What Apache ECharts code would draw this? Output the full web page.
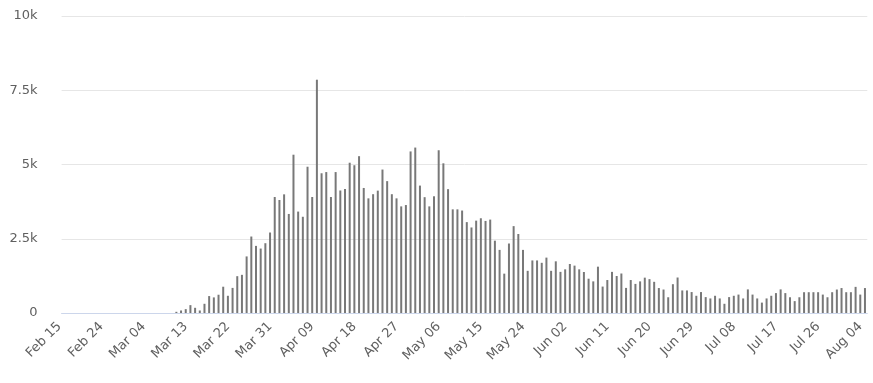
<!DOCTYPE html>
<html>
<head>
<meta charset="utf-8">
<script src="https://cdn.jsdelivr.net/npm/echarts@6/dist/echarts.min.js"></script>
<style>
html,body{margin:0;padding:0;background:#fff;}
#chart{width:873px;height:383px;}
</style>
</head>
<body>
<div id="chart"></div>
<script>
// Dates: Feb 15 2020 .. Aug 04 2020 (daily); month is 1-based here
const startDate = [2020, 2, 15];
const dayCount = 172;
const monthNames = ['Jan','Feb','Mar','Apr','May','Jun','Jul','Aug','Sep','Oct','Nov','Dec'];

// Daily values, Feb 15 .. Mar 09 (zero)
const valuesFebMar = [0,0,0,0,0,0,0,0,0,0,0,0,0,0,0,0,0,0,0,0,0,0,0,0];
// Mar 10 .. Apr 03
const valuesMarApr = [40,85,130,265,175,85,310,570,525,615,885,580,845,1240,1285,1905,2575,2260,2170,2350,2710,3905,3805,3995,3335];
// Apr 04 .. Apr 28
const valuesApr = [5330,3415,3240,4925,3905,7855,4705,4745,3905,4745,4125,4175,5060,4975,5280,4210,3860,4000,4120,4830,4440,4000,3860,3590,3635];
// Apr 29 .. May 23
const valuesMay = [5440,5570,4290,3900,3590,3930,5480,5040,4170,3490,3490,3450,3060,2880,3110,3190,3100,3145,2435,2125,1325,2340,2925,2660,2125];
// May 24 .. Jun 17
const valuesJun = [1420,1770,1770,1690,1865,1420,1740,1385,1470,1650,1595,1470,1380,1155,1065,1560,890,1110,1385,1245,1330,845,1110,980,1065];
// Jun 18 .. Jul 12
const valuesJul = [1190,1140,1050,840,790,530,970,1195,760,760,705,580,705,535,490,580,490,310,535,580,620,490,795,620,490];
// Jul 13 .. Aug 04
const valuesAug = [350,490,580,670,795,670,530,400,530,700,700,700,700,620,530,700,790,840,700,700,880,620,840];

const yTicks = [0, 2500, 5000, 7500, 10000];

const categories = [];
for (let i = 0; i < dayCount; i++) {
  const d = new Date(Date.UTC(startDate[0], startDate[1] - 1, startDate[2] + i));
  const dd = d.getUTCDate();
  categories.push(monthNames[d.getUTCMonth()] + ' ' + (dd < 10 ? '0' + dd : dd));
}
const values = [].concat(valuesFebMar, valuesMarApr, valuesApr, valuesMay, valuesJun, valuesJul, valuesAug);

const chart = echarts.init(document.getElementById('chart'), null, {renderer: 'canvas'});
chart.setOption({
  animation: false,
  backgroundColor: '#ffffff',
  grid: {left: 61.6, right: 5.7, top: 16, bottom: 70, containLabel: false},
  xAxis: {
    type: 'category',
    data: categories,
    boundaryGap: true,
    axisLine: {show: true, lineStyle: {color: '#ccd6eb', width: 1}},
    axisTick: {show: false},
    axisLabel: {
      interval: 8,
      rotate: 45,
      margin: 16,
      verticalAlign: 'bottom',
      color: '#606060',
      fontSize: 13,
      fontFamily: 'DejaVu Sans, sans-serif'
    },
    splitLine: {show: false}
  },
  yAxis: {
    type: 'value',
    min: yTicks[0],
    max: yTicks[yTicks.length - 1],
    interval: 2500,
    axisLine: {show: false},
    axisTick: {show: false},
    axisLabel: {
      margin: 24,
      color: '#606060',
      fontSize: 13,
      fontFamily: 'DejaVu Sans, sans-serif',
      formatter: v => v === 0 ? '0' : (v / 1000) + 'k'
    },
    splitLine: {show: true, lineStyle: {color: '#e6e6e6', width: 1}}
  },
  series: [{
    type: 'bar',
    data: values,
    barWidth: 2,
    itemStyle: {color: '#787878'},
    emphasis: {disabled: true}
  }]
});
</script>
</body>
</html>
